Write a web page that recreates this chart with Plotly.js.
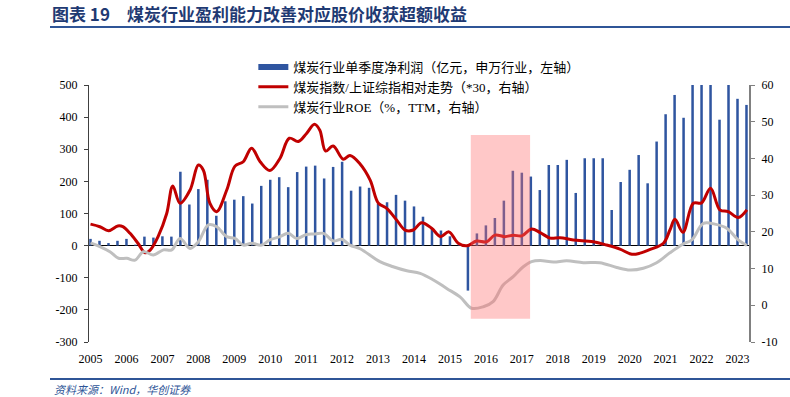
<!DOCTYPE html>
<html><head><meta charset="utf-8">
<script src="https://cdn.plot.ly/plotly-3.0.1.min.js"></script>
<style>html,body{margin:0;padding:0;background:#fff;}#chart{width:790px;height:397px;}</style>
</head><body><div id="chart"></div>
<script>
// Quarterly net profit (亿元), 2005Q1 .. 2023Q2
const startYear = 2005;
const profit = [21,15,8,15,21,3,28,25,29,28,
  230,128,176,205,93,138,143,154,131,186,
  205,213,182,229,246,249,209,245,261,171,
  184,180,130,135,158,140,122,90,54,47,
  29,3,-140,38,63,86,140,233,227,215,
  173,251,251,267,164,272,272,272,111,198,
  236,282,194,324,409,469,398,560,610,600,
  392,560,457,438];

// Relative strength coal index / SSE (*30), right axis
const relDates = [2005.00,2005.26,2005.50,2005.76,2005.90,2006.10,2006.32,2006.52,2006.66,2006.88,
  2007.12,2007.29,2007.49,2007.77,2008.00,2008.14,2008.32,2008.51,2008.79,2009.02,
  2009.25,2009.48,2009.72,2009.99,2010.27,2010.53,2010.78,2011.01,2011.23,2011.38,
  2011.54,2011.75,2012.03,2012.22,2012.50,2012.78,2013.01,2013.24,2013.52,2013.75,
  2013.98,2014.21,2014.49,2014.74,2014.97,2015.23,2015.47,2015.74,2016.02,2016.25,
  2016.53,2016.76,2017.00,2017.27,2017.51,2017.79,2018.06,2018.43,2018.99,2019.36,
  2019.73,2020.06,2020.29,2020.57,2020.94,2021.12,2021.26,2021.48,2021.77,2022.00,
  2022.25,2022.51,2022.74,2023.02,2023.26];
const relValues = [22.1,21.4,20.3,21.6,21.4,19.6,16.9,14.3,15.0,18.7,
  25.0,32.5,27.8,31.4,38.2,36.8,27.8,25.5,31.4,37.9,
  39.1,42.8,39.1,36.7,40.0,45.5,44.6,46.8,49.3,47.7,
  42.0,43.4,39.8,40.8,38.5,34.1,27.8,26.4,23.2,20.5,
  20.5,22.5,21.0,18.7,20.0,16.9,16.2,17.5,17.3,19.1,
  18.7,19.1,18.9,20.8,19.8,18.3,18.4,17.8,17.3,16.4,
  15.3,13.9,14.2,15.2,16.9,20.5,23.4,19.9,27.8,27.9,
  31.9,26.0,25.5,23.9,26.0];

// ROE (%, TTM), right axis
const roeDates = [2005.00,2005.26,2005.54,2005.78,2006.01,2006.24,2006.47,2006.75,2007.03,2007.26,
  2007.49,2007.77,2008.00,2008.28,2008.51,2008.79,2009.02,2009.25,2009.48,2009.76,
  2009.99,2010.27,2010.50,2010.74,2011.01,2011.25,2011.48,2011.76,2011.99,2012.22,
  2012.50,2013.05,2013.42,2013.80,2014.17,2014.54,2014.91,2015.28,2015.60,2015.93,
  2016.20,2016.48,2016.76,2017.04,2017.27,2017.51,2017.88,2018.25,2018.71,2019.17,
  2019.64,2020.01,2020.38,2020.75,2021.12,2021.49,2021.73,2022.05,2022.37,2022.70,
  2023.02,2023.26];
const roeValues = [17.0,16.0,14.6,12.8,12.8,12.3,14.6,13.7,15.1,15.1,
  18.2,15.5,17.3,21.9,21.4,18.7,18.2,16.4,16.9,16.4,
  17.8,18.7,19.6,18.2,19.3,19.4,19.6,17.5,18.0,16.4,
  15.4,11.9,10.5,9.4,8.7,6.9,4.6,2.3,-0.8,-0.4,
  1.0,5.5,7.8,10.5,11.9,12.2,11.8,12.1,11.6,11.6,
  10.3,9.6,10.1,11.6,14.3,16.7,17.8,22.3,22.1,21.0,
  17.8,16.3];

const yearTicks = [2005,2006,2007,2008,2009,2010,2011,2012,2013,2014,2015,2016,2017,2018,2019,2020,2021,2022,2023];
const leftTicks = [-300,-200,-100,0,100,200,300,400,500];
const rightTicks = [-10,0,10,20,30,40,50,60];
const highlightPeriod = [2015.58, 2017.23];
const highlightRange = [-228, 344];

const names = ['煤炭行业单季度净利润（亿元，申万行业，左轴）','煤炭指数/上证综指相对走势（*30，右轴）','煤炭行业ROE（%，TTM，右轴）'];

const qx = profit.map((v,i)=> startYear + i/4);
const serif = '"Liberation Serif", "Noto Sans CJK SC", serif';
const BLUE = '#2F55A0';

const traces = [
  {type:'bar', x:qx, y:profit, width:0.07, marker:{color:BLUE, line:{width:0}}, showlegend:false, yaxis:'y', name:names[0]},
  {type:'scatter', mode:'lines', x:[null], y:[null], line:{color:BLUE, width:6}, name:names[0], yaxis:'y'},
  {type:'scatter', mode:'lines', x:relDates, y:relValues, line:{color:'#C00000', width:3, shape:'spline', smoothing:1}, name:names[1], yaxis:'y2'},
  {type:'scatter', mode:'lines', x:roeDates, y:roeValues, line:{color:'#BFBFBF', width:3, shape:'spline', smoothing:1}, name:names[2], yaxis:'y2'}
];

const layout = {
  width:790, height:397,
  margin:{l:89, r:41, t:85, b:55},
  paper_bgcolor:'#fff', plot_bgcolor:'rgba(0,0,0,0)',
  font:{family:serif, size:12, color:'#000'},
  showlegend:true,
  legend:{x:0.249, y:1-37/257, xanchor:'left', yanchor:'bottom', orientation:'v', bgcolor:'rgba(0,0,0,0)',
    font:{family:serif, size:13, color:'#000'}, tracegroupgap:0, itemwidth:30},
  title:{text:'<b>图表 19　煤炭行业盈利能力改善对应股价收获超额收益</b>', x:52/790, xanchor:'left', y:1-15/397, yanchor:'middle',
    font:{family:'"Noto Sans CJK SC", sans-serif', size:17, color:'#1F3A73'}},
  xaxis:{range:[2004.958, 2023.32], tickvals:yearTicks, ticktext:yearTicks.map(String), showgrid:false, zeroline:false,
    showline:false, ticks:'', ticklabelstandoff:8, tickfont:{family:serif, size:12, color:'#000'}},
  yaxis:{range:[-300,500], tickvals:leftTicks, ticktext:leftTicks.map(v=>String(v)), showgrid:false,
    zeroline:true, zerolinecolor:'#000', zerolinewidth:1, showline:true, linecolor:'#404040', linewidth:1,
    ticks:'outside', ticklen:4, tickcolor:'#404040', ticklabelstandoff:4, tickfont:{family:serif, size:12, color:'#000'}},
  yaxis2:{range:[-10,60], overlaying:'y', side:'right', tickvals:rightTicks, ticktext:rightTicks.map(v=>String(v)),
    showgrid:false, zeroline:false, showline:true, linecolor:'#808080', linewidth:2, ticks:'outside', ticklen:4,
    tickcolor:'#808080', ticklabelstandoff:4, tickfont:{family:serif, size:12, color:'#000'}},
  shapes:[
    {type:'rect', xref:'x', yref:'y', x0:highlightPeriod[0], x1:highlightPeriod[1], y0:highlightRange[0], y1:highlightRange[1],
      fillcolor:'rgba(255,110,110,0.38)', line:{width:0}, layer:'above'},
    {type:'line', xref:'paper', yref:'paper', x0:(50-89)/660, x1:(790-89)/660, y0:(342-27)/257, y1:(342-27)/257,
      line:{color:'#2F5597', width:2}},
    {type:'line', xref:'paper', yref:'paper', x0:(50-89)/660, x1:(790-89)/660, y0:(342-379)/257, y1:(342-379)/257,
      line:{color:'#2F5597', width:2}}
  ],
  annotations:[
    {text:'<i>资料来源：Wind，华创证券</i>', xref:'paper', yref:'paper', x:(52-89)/660, y:(342-389)/257, xanchor:'left', yanchor:'middle',
      showarrow:false, font:{family:'"Noto Sans CJK SC", serif', size:11, color:'#2F5597'}}
  ]
};

Plotly.newPlot('chart', traces, layout, {displayModeBar:false, staticPlot:true});
</script></body></html>
